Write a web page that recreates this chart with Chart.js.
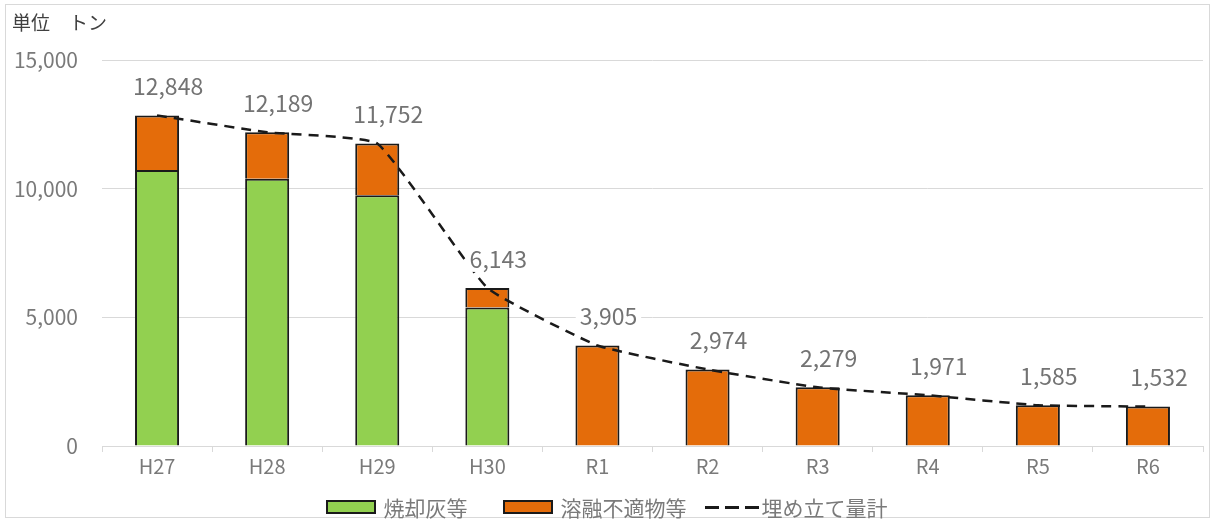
<!DOCTYPE html>
<html lang="ja">
<head>
<meta charset="utf-8">
<script src="https://cdn.jsdelivr.net/npm/chart.js@4"></script>
<style>
  html, body { margin: 0; padding: 0; background: #fff; }
  body { width: 1213px; height: 520px; position: relative; overflow: hidden;
         font-family: "Noto Sans CJK JP", "Noto Sans", sans-serif; }
  #frame { position: absolute; left: 5px; top: 4px; width: 1205px; height: 514px;
           border: 1px solid #d9d9d9; box-sizing: border-box; }
  #wrap { position: absolute; left: 0; top: 0; width: 1213px; height: 520px; }
  #unit { position: absolute; left: 12px; top: 8px; font-size: 19px; line-height: 28px; color: #404040; }
  #legend { position: absolute; left: 0; width: 1213px; top: 494px; height: 26px; text-align: center;
            font-size: 21px; color: #7a7a7a; white-space: nowrap; line-height: 26px; }
  #legend span.item { display: inline-flex; align-items: center; height: 26px; vertical-align: top; }
  .sw { display: inline-block; width: 50px; height: 14px; border: 2px solid #1a1a1a;
        box-sizing: border-box; margin-right: 8px; }
  .dash { display: inline-block; width: 54px; height: 3px; margin-right: 3px;
          background: repeating-linear-gradient(to right, #1a1a1a 0 14px, transparent 14px 20px); }
</style>
</head>
<body>
<div id="frame"></div>
<div id="wrap"><canvas id="chart" width="1213" height="520"></canvas></div>
<div id="unit">単位　トン</div>
<div id="legend"></div>
<script>
// 年度
var nendo = ['H27', 'H28', 'H29', 'H30', 'R1', 'R2', 'R3', 'R4', 'R5', 'R6'];
// 焼却灰等（トン）
var shokyakubai = [10725, 10390, 9740, 5380, 0, 0, 0, 0, 0, 0];
// 埋め立て量計（トン）
var goukei = [12848, 12189, 11752, 6143, 3905, 2974, 2279, 1971, 1585, 1532];
// 溶融不適物等 = 計 - 焼却灰等
var youyuu = goukei.map(function (v, i) { return v - shokyakubai[i]; });

var names = ['焼却灰等', '溶融不適物等', '埋め立て量計'];
var GREEN = '#92d050', ORANGE = '#e46c0a', EDGE = '#1a1a1a';

// 凡例
document.getElementById('legend').innerHTML =
  '<span class="item" style="margin-right:35px"><span class="sw" style="background:' + GREEN + '"></span>' + names[0] + '</span>' +
  '<span class="item" style="margin-right:18px"><span class="sw" style="background:' + ORANGE + '"></span>' + names[1] + '</span>' +
  '<span class="item"><span class="dash"></span>' + names[2] + '</span>';

// 合計の数値ラベル（白地つき）
var totalLabels = {
  id: 'totalLabels',
  afterDatasetsDraw: function (chart) {
    var meta = chart.getDatasetMeta(2);
    var c = chart.ctx;
    c.save();
    c.font = '23px "Noto Sans CJK JP", sans-serif';
    c.textAlign = 'center';
    c.textBaseline = 'middle';
    meta.data.forEach(function (pt, i) {
      var txt = goukei[i].toLocaleString('en-US');
      var w = c.measureText(txt).width;
      var x = pt.x + 11, y = pt.y - 29;
      c.fillStyle = '#ffffff';
      c.fillRect(x - w / 2 - 4, y - 13, w + 8, 26);
      c.fillStyle = '#737373';
      c.fillText(txt, x, y);
    });
    c.restore();
  }
};

Chart.defaults.font.family = '"Noto Sans CJK JP", "Noto Sans", sans-serif';
Chart.defaults.color = '#7a7a7a';

new Chart(document.getElementById('chart'), {
  type: 'bar',
  data: {
    labels: nendo,
    datasets: [
      { label: names[0], data: shokyakubai, backgroundColor: GREEN, borderColor: EDGE,
        borderWidth: 2, stack: 'a', order: 1, barPercentage: 0.8, categoryPercentage: 0.5 },
      { label: names[1], data: youyuu, backgroundColor: ORANGE, borderColor: EDGE,
        borderWidth: 2, stack: 'a', order: 1, barPercentage: 0.8, categoryPercentage: 0.5 },
      { type: 'line', label: names[2], data: goukei, stack: 'total', order: 0,
        borderColor: EDGE, borderWidth: 2.5, borderDash: [10, 7], backgroundColor: 'transparent',
        pointRadius: 0, tension: 0.12, fill: false }
    ]
  },
  options: {
    responsive: false,
    animation: false,
    layout: { padding: { left: 10, right: 10, top: 60, bottom: 44 } },
    plugins: { legend: { display: false }, tooltip: { enabled: false } },
    scales: {
      x: {
        stacked: true,
        afterFit: function (s) { s.height = 30; },
        grid: { drawOnChartArea: false, drawTicks: true, tickLength: 6, offset: true, color: '#d9d9d9' },
        border: { display: true, color: '#d9d9d9', width: 1 },
        ticks: { font: { size: 20 }, color: '#7a7a7a', padding: 2 }
      },
      y: {
        stacked: true,
        min: 0, max: 15000,
        afterFit: function (s) { s.width = 92; },
        grid: { color: '#d9d9d9', drawTicks: false },
        border: { display: false },
        ticks: {
          stepSize: 5000, font: { size: 21 }, color: '#7a7a7a', padding: 24,
          callback: function (v) { return v.toLocaleString('en-US'); }
        }
      }
    }
  },
  plugins: [totalLabels]
});
</script>
</body>
</html>
